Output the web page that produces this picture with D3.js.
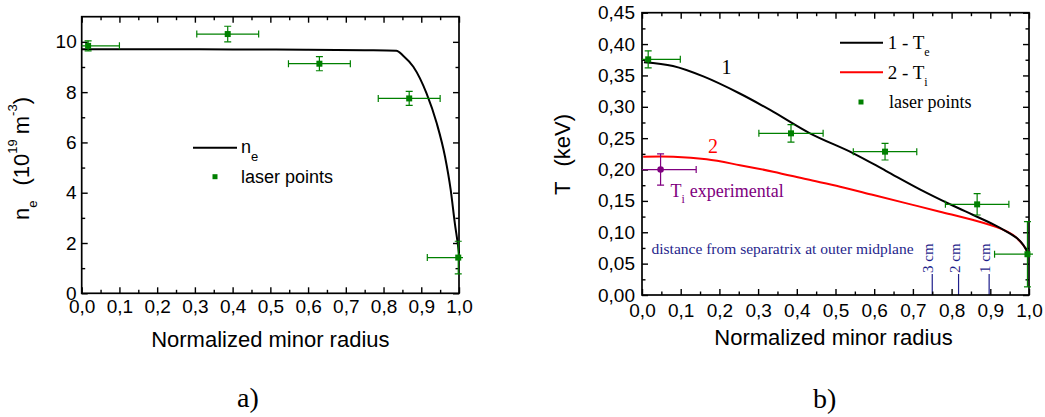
<!DOCTYPE html>
<html>
<head>
<meta charset="utf-8">
<script src="https://cdn.jsdelivr.net/npm/d3@7"></script>
<style>
  html, body { margin: 0; padding: 0; background: #fff; }
  svg { display: block; }
</style>
</head>
<body>
<svg id="chart" width="1045" height="417"></svg>
<script>
// ---------- Panel a: electron density profile ----------
const neRadius  = [0, 0.2, 0.4, 0.6, 0.75, 0.834, 0.852, 0.879, 0.914, 0.941, 0.963, 0.978, 0.989, 0.9966, 1.0];
const neDensity = [9.71, 9.71, 9.70, 9.69, 9.67, 9.65, 9.45, 9.01, 7.95, 6.76, 5.43, 4.11, 2.78, 1.99, 1.6];

const neLaserRadius    = [0.017, 0.387, 0.630, 0.868, 0.998];
const neLaserDensity   = [9.84, 10.31, 9.13, 7.75, 1.42];
const neLaserRadiusErr = [0.083, 0.082, 0.082, 0.082, 0.082];
const neLaserDensityErr = [0.2, 0.31, 0.28, 0.28, 0.65];

const neMajorTicks = [0, 2, 4, 6, 8, 10];
const neMinorTicks = [1, 3, 5, 7, 9];

// ---------- Panel b: temperature profiles ----------
const teRadius = [0.005, 0.08, 0.16, 0.25, 0.331, 0.434, 0.546, 0.63, 0.718, 0.80, 0.856, 0.908, 0.942, 0.97, 0.985, 0.9956];
const teValue  = [0.371, 0.365, 0.348, 0.322, 0.295, 0.2577, 0.2259, 0.198, 0.1685, 0.1435, 0.1275, 0.1125, 0.101, 0.090, 0.080, 0.069];

const tiRadius = [0.003, 0.081, 0.167, 0.253, 0.339, 0.426, 0.512, 0.598, 0.684, 0.770, 0.856, 0.925, 0.959, 0.985, 0.9956];
const tiValue  = [0.2205, 0.2205, 0.2163, 0.207, 0.1966, 0.1844, 0.1727, 0.1594, 0.1461, 0.1328, 0.1196, 0.1063, 0.0956, 0.0797, 0.069];

const teLaserRadius    = [0.016, 0.385, 0.628, 0.866, 0.996];
const teLaserValue     = [0.3757, 0.2577, 0.2285, 0.1445, 0.065];
const teLaserRadiusErr = [0.083, 0.083, 0.082, 0.082, 0.085];
const teLaserValueErr  = [0.0135, 0.014, 0.0133, 0.017, 0.052];

const tiExpRadius    = [0.048];
const tiExpValue     = [0.2];
const tiExpRadiusErr = [0.092];
const tiExpValueErr  = [0.025];

const tMajorTicks = [0, 0.05, 0.10, 0.15, 0.20, 0.25, 0.30, 0.35, 0.40, 0.45];
const tMinorTicks = [0.025, 0.075, 0.125, 0.175, 0.225, 0.275, 0.325, 0.375, 0.425];

// separatrix distance markers
const cmLabels = ["3 cm", "2 cm", "1 cm"];
const cmRadius = [0.75, 0.818, 0.897];

// shared radius ticks
const rMajorTicks = [0, 0.1, 0.2, 0.3, 0.4, 0.5, 0.6, 0.7, 0.8, 0.9, 1.0];
const rMinorTicks = [0.05, 0.15, 0.25, 0.35, 0.45, 0.55, 0.65, 0.75, 0.85, 0.95];

// ---------- helpers ----------
const loc = d3.formatLocale({decimal: ",", thousands: " ", grouping: [3], currency: ["", ""]});
const fmtR = loc.format(".1f");
const fmtT = loc.format(".2f");
const fmtN = loc.format("d");

const SANS = "'Liberation Sans', Arial, sans-serif";
const SERIF = "'Liberation Serif', 'Times New Roman', serif";
const GREEN = "#008000";
const PURPLE = "#800080";
const NAVY = "#1f1f8c";

const svg = d3.select("#chart");

function drawFrame(g, x, y, opts) {
  const [x0, x1] = x.range();
  const [y0, y1] = y.range();
  const style = sel => {
    sel.select(".domain").remove();
    sel.selectAll(".tick line").attr("stroke", "#000").attr("stroke-width", 1.4);
    sel.selectAll("text").attr("font-family", SANS).attr("font-size", 19).attr("fill", "#000");
  };
  // major + minor ticks on all four sides, pointing inward
  g.append("g").attr("transform", `translate(0,${y0})`)
    .call(d3.axisBottom(x).tickValues(rMajorTicks).tickSize(-6).tickPadding(opts.xPad).tickFormat(fmtR)).call(style);
  g.append("g").attr("transform", `translate(0,${y0})`)
    .call(d3.axisBottom(x).tickValues(rMinorTicks).tickSize(-3.5).tickFormat("")).call(style);
  g.append("g").attr("transform", `translate(0,${y1})`)
    .call(d3.axisTop(x).tickValues(rMajorTicks).tickSize(-6).tickFormat("")).call(style);
  g.append("g").attr("transform", `translate(0,${y1})`)
    .call(d3.axisTop(x).tickValues(rMinorTicks).tickSize(-3.5).tickFormat("")).call(style);
  g.append("g").attr("transform", `translate(${x0},0)`)
    .call(d3.axisLeft(y).tickValues(opts.yMajor).tickSize(-6).tickPadding(opts.yPad).tickFormat(opts.yFmt)).call(style);
  g.append("g").attr("transform", `translate(${x0},0)`)
    .call(d3.axisLeft(y).tickValues(opts.yMinor).tickSize(-3.5).tickFormat("")).call(style);
  g.append("g").attr("transform", `translate(${x1},0)`)
    .call(d3.axisRight(y).tickValues(opts.yMajor).tickSize(-6).tickFormat("")).call(style);
  g.append("g").attr("transform", `translate(${x1},0)`)
    .call(d3.axisRight(y).tickValues(opts.yMinor).tickSize(-3.5).tickFormat("")).call(style);
  g.append("rect")
    .attr("x", x0).attr("y", y1).attr("width", x1 - x0).attr("height", y0 - y1)
    .attr("fill", "none").attr("stroke", "#000").attr("stroke-width", 1.7);
}

function drawErrorPoints(g, x, y, xs, ys, xe, ye, color, shape) {
  const cap = 3.5;
  xs.forEach((r, i) => {
    const cx = x(r), cy = y(ys[i]);
    const xl = x(r - xe[i]), xr = x(r + xe[i]);
    const yt = y(ys[i] + ye[i]), yb = y(ys[i] - ye[i]);
    const p = g.append("g").attr("stroke", color).attr("stroke-width", 1.2).attr("fill", "none");
    p.append("line").attr("x1", xl).attr("x2", xr).attr("y1", cy).attr("y2", cy);
    p.append("line").attr("x1", xl).attr("x2", xl).attr("y1", cy - cap).attr("y2", cy + cap);
    p.append("line").attr("x1", xr).attr("x2", xr).attr("y1", cy - cap).attr("y2", cy + cap);
    p.append("line").attr("x1", cx).attr("x2", cx).attr("y1", yt).attr("y2", yb);
    p.append("line").attr("x1", cx - cap).attr("x2", cx + cap).attr("y1", yt).attr("y2", yt);
    p.append("line").attr("x1", cx - cap).attr("x2", cx + cap).attr("y1", yb).attr("y2", yb);
    if (shape === "square") {
      g.append("rect").attr("x", cx - 3).attr("y", cy - 3).attr("width", 6).attr("height", 6).attr("fill", color);
    } else {
      g.append("circle").attr("cx", cx).attr("cy", cy).attr("r", 3.3).attr("fill", color);
    }
  });
}

function clipFor(id, x, y) {
  const [x0, x1] = x.range();
  const [y0, y1] = y.range();
  svg.append("clipPath").attr("id", id)
    .append("rect").attr("x", x0).attr("y", y1 - 4).attr("width", x1 - x0 + 4).attr("height", y0 - y1 + 4);
  return `url(#${id})`;
}

// ================= Panel a =================
{
  const x = d3.scaleLinear().domain([0, 1]).range([81.7, 459]);
  const y = d3.scaleLinear().domain([0, 11]).range([293.3, 16.7]);
  const g = svg.append("g");

  const clip = clipFor("clipA", x, y);
  const line = d3.line().x((d, i) => x(neRadius[i])).y(d => y(d)).curve(d3.curveMonotoneX);
  g.append("path").datum(neDensity).attr("d", line)
    .attr("fill", "none").attr("stroke", "#000").attr("stroke-width", 2);

  drawFrame(g, x, y, {yMajor: neMajorTicks, yMinor: neMinorTicks, yFmt: fmtN, xPad: 6, yPad: 5});

  drawErrorPoints(g.append("g").attr("clip-path", clip), x, y,
    neLaserRadius, neLaserDensity, neLaserRadiusErr, neLaserDensityErr, GREEN, "square");

  // legend
  g.append("line").attr("x1", 193).attr("x2", 237).attr("y1", 147.7).attr("y2", 147.7)
    .attr("stroke", "#000").attr("stroke-width", 2);
  const t1 = g.append("text").attr("x", 241).attr("y", 153.3).attr("font-family", SANS).attr("font-size", 18);
  t1.append("tspan").text("n");
  t1.append("tspan").attr("font-size", 13).attr("dy", 8).text("e");
  g.append("rect").attr("x", 212.5).attr("y", 174.2).attr("width", 5).attr("height", 5).attr("fill", GREEN);
  g.append("text").attr("x", 241).attr("y", 182.7).attr("font-family", SANS).attr("font-size", 18).text("laser points");

  // axis titles
  g.append("text").attr("x", (81.7 + 459) / 2).attr("y", 346.7).attr("text-anchor", "middle")
    .attr("font-family", SANS).attr("font-size", 22).text("Normalized minor radius");

  const yt = g.append("text").attr("transform", "translate(29,220) rotate(-90)")
    .attr("font-family", SANS).attr("font-size", 22);
  yt.append("tspan").text("n");
  yt.append("tspan").attr("font-size", 13).attr("dy", 7.7).text("e");
  yt.append("tspan").attr("dx", 15).attr("dy", -7.7).text("(10");
  yt.append("tspan").attr("font-size", 13).attr("dy", -12.3).text("19");
  yt.append("tspan").attr("dx", 5).attr("dy", 12.3).text("m");
  yt.append("tspan").attr("font-size", 13).attr("dy", -12.3).text("-3");
  yt.append("tspan").attr("dy", 12.3).text(")");

  g.append("text").attr("x", 237).attr("y", 407).attr("font-family", SERIF).attr("font-size", 28).text("a)");
}

// ================= Panel b =================
{
  const x = d3.scaleLinear().domain([0, 1]).range([642, 1029]);
  const y = d3.scaleLinear().domain([0, 0.45]).range([295, 12.7]);
  const g = svg.append("g");

  const clip = clipFor("clipB", x, y);
  const lineTe = d3.line().x((d, i) => x(teRadius[i])).y(d => y(d)).curve(d3.curveCatmullRom.alpha(0.5));
  const lineTi = d3.line().x((d, i) => x(tiRadius[i])).y(d => y(d)).curve(d3.curveCatmullRom.alpha(0.5));

  // separatrix distance markers
  cmRadius.forEach((r, i) => {
    g.append("line").attr("x1", x(r)).attr("x2", x(r)).attr("y1", y(0)).attr("y2", 274)
      .attr("stroke", NAVY).attr("stroke-width", 1.2);
    g.append("text").attr("transform", `translate(${x(r) + 1},273) rotate(-90)`)
      .attr("font-family", SERIF).attr("font-size", 15).attr("fill", NAVY).text(cmLabels[i]);
  });
  g.append("text").attr("x", 651.5).attr("y", 254).attr("font-family", SERIF).attr("font-size", 15.5)
    .attr("fill", NAVY).text("distance from separatrix at outer midplane");

  g.append("path").datum(tiValue).attr("d", lineTi)
    .attr("fill", "none").attr("stroke", "#ff0000").attr("stroke-width", 2);
  g.append("path").datum(teValue).attr("d", lineTe)
    .attr("fill", "none").attr("stroke", "#000").attr("stroke-width", 2);

  drawFrame(g, x, y, {yMajor: tMajorTicks, yMinor: tMinorTicks, yFmt: fmtT, xPad: 8.5, yPad: 7});

  const pts = g.append("g").attr("clip-path", clip);
  drawErrorPoints(pts, x, y, teLaserRadius, teLaserValue, teLaserRadiusErr, teLaserValueErr, GREEN, "square");
  drawErrorPoints(pts, x, y, tiExpRadius, tiExpValue, tiExpRadiusErr, tiExpValueErr, PURPLE, "circle");

  // curve labels
  g.append("text").attr("x", 721.5).attr("y", 74).attr("font-family", SERIF).attr("font-size", 20).text("1");
  g.append("text").attr("x", 708).attr("y", 153.3).attr("font-family", SERIF).attr("font-size", 20)
    .attr("fill", "#ff0000").text("2");
  const te = g.append("text").attr("x", 670.5).attr("y", 196.5).attr("font-family", SERIF)
    .attr("font-size", 18).attr("fill", PURPLE);
  te.append("tspan").text("T");
  te.append("tspan").attr("font-size", 12).attr("dy", 6).text("i");
  te.append("tspan").attr("dx", 5).attr("dy", -6).text("experimental");

  // legend
  g.append("line").attr("x1", 840).attr("x2", 883).attr("y1", 42.7).attr("y2", 42.7)
    .attr("stroke", "#000").attr("stroke-width", 2);
  const l1 = g.append("text").attr("x", 887.7).attr("y", 49).attr("font-family", SERIF).attr("font-size", 19);
  l1.append("tspan").text("1 - T");
  l1.append("tspan").attr("font-size", 12).attr("dy", 7).text("e");
  g.append("line").attr("x1", 840).attr("x2", 883).attr("y1", 72.3).attr("y2", 72.3)
    .attr("stroke", "#ff0000").attr("stroke-width", 2);
  const l2 = g.append("text").attr("x", 887.7).attr("y", 79).attr("font-family", SERIF).attr("font-size", 19);
  l2.append("tspan").text("2 - T");
  l2.append("tspan").attr("font-size", 12).attr("dy", 7).text("i");
  g.append("rect").attr("x", 858.5).attr("y", 99.5).attr("width", 5).attr("height", 5).attr("fill", GREEN);
  g.append("text").attr("x", 889).attr("y", 108.3).attr("font-family", SERIF).attr("font-size", 18).text("laser points");

  // axis titles
  g.append("text").attr("x", (642 + 1029) / 2 - 2).attr("y", 345).attr("text-anchor", "middle")
    .attr("font-family", SANS).attr("font-size", 22).text("Normalized minor radius");
  const yt = g.append("text").attr("transform", "translate(570,195) rotate(-90)")
    .attr("font-family", SANS).attr("font-size", 22);
  yt.append("tspan").text("T");
  yt.append("tspan").attr("dx", 15).text("(keV)");

  g.append("text").attr("x", 813).attr("y", 408).attr("font-family", SERIF).attr("font-size", 28).text("b)");
}
</script>
</body>
</html>
